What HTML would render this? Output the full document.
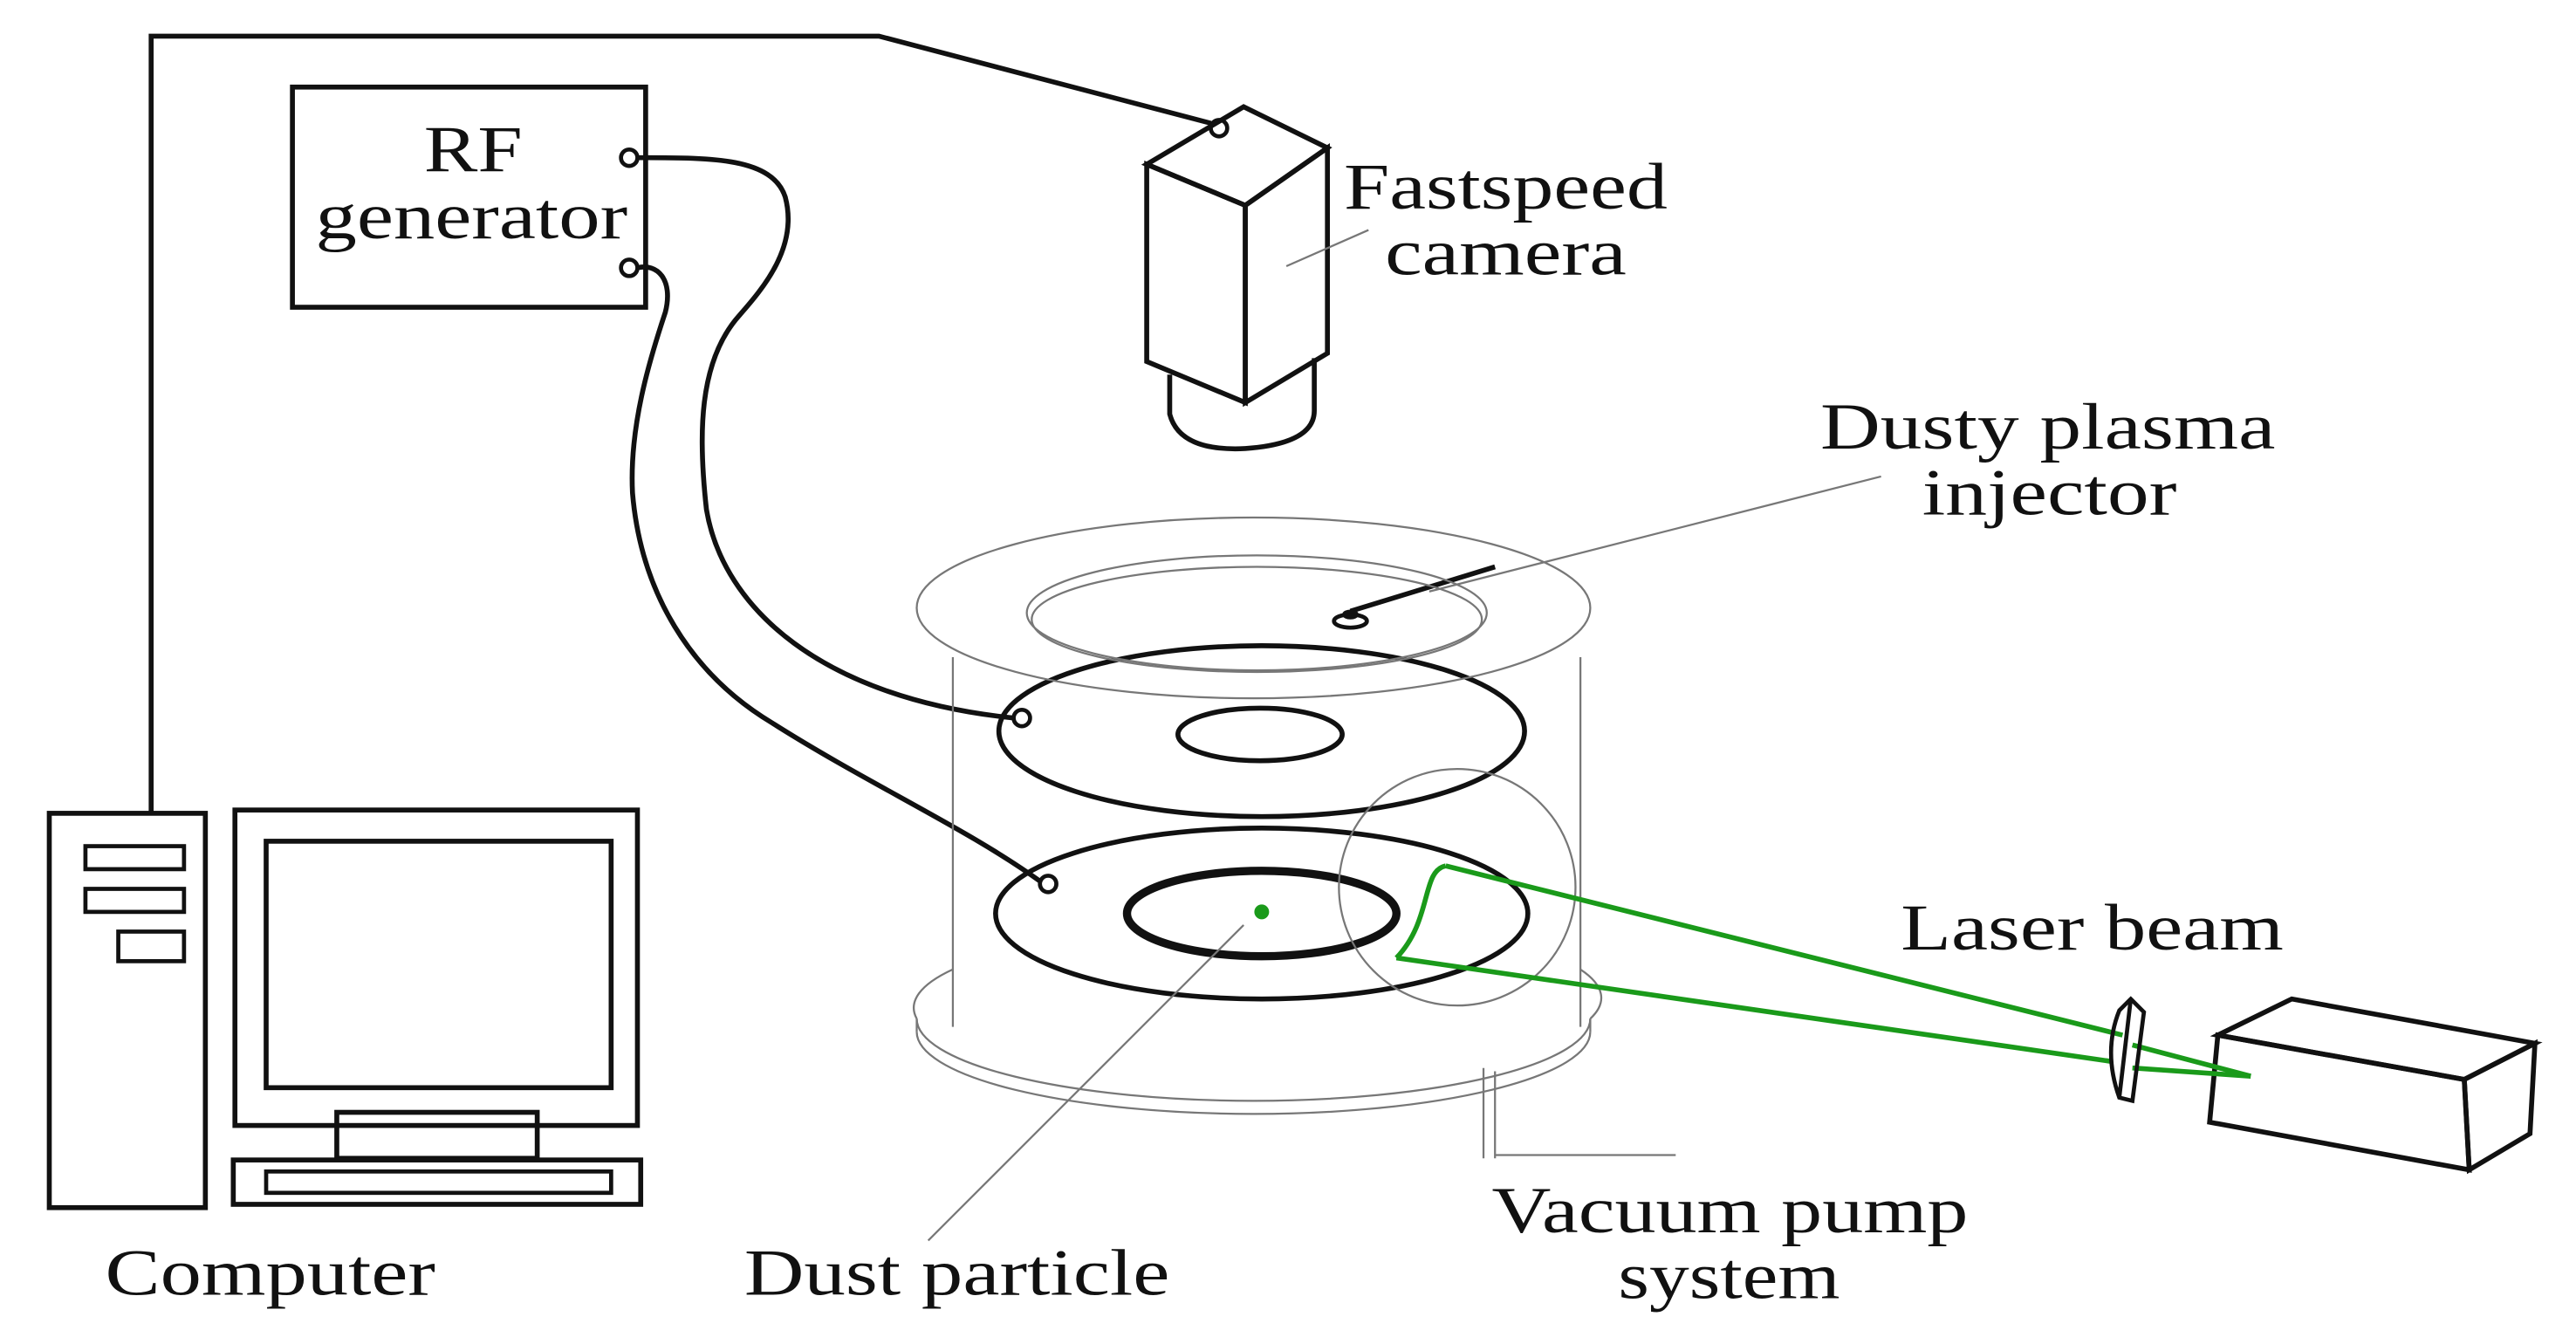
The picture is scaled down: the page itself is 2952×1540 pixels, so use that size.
<!DOCTYPE html>
<html><head><meta charset="utf-8"><style>
html,body{margin:0;padding:0;background:#fff}
svg{display:block}
text{font-family:"Liberation Serif",serif;font-size:40px;fill:#111}
</style></head><body>
<svg width="2952" height="1540" viewBox="0 0 1568 818" xmlns="http://www.w3.org/2000/svg">
<g fill="none" stroke="#111" stroke-width="3">
<polyline points="92,495 92,22 535,22 737,75"/>
<rect x="178" y="53" width="215" height="134"/>
<circle cx="383" cy="96" r="5" stroke-width="2.5"/>
<circle cx="383" cy="163" r="5" stroke-width="2.5"/>
<path d="M388,96 C430,96 470,95 478,120 C486,150 465,175 450,192 C425,220 425,265 430,310 C440,370 500,425 617,437"/>
<path d="M388,163 C400,160 410,170 405,190 C395,220 383,260 385,300 C390,360 420,410 470,440 C530,478 590,505 634,537"/>
<circle cx="742" cy="78" r="5" stroke-width="2.5"/>
<polygon points="698,100 758,125 758,245 698,220"/>
<polygon points="698,100 757,65 808,90 758,125"/>
<polygon points="758,125 808,90 808,215 758,245"/>
<path d="M712,228 L712,252 Q718,275 758,273 Q800,270 800,250 L800,218"/>
<ellipse cx="768" cy="445" rx="160" ry="52"/>
<ellipse cx="767" cy="447" rx="50" ry="16"/>
<circle cx="622" cy="437" r="5" stroke-width="2.5"/>
<ellipse cx="768" cy="556" rx="162" ry="52"/>
<ellipse cx="768" cy="556" rx="82" ry="26" stroke-width="5"/>
<circle cx="638" cy="538" r="5" stroke-width="2.5"/>
<line x1="822" y1="372" x2="910" y2="345"/>
<ellipse cx="822" cy="378" rx="10" ry="4" stroke-width="2.5"/>
<ellipse cx="822" cy="374" rx="4" ry="2" stroke-width="2"/>
<polygon points="1350,630 1500,657 1503,712 1345,683"/>
<polygon points="1350,630 1395,608 1543,635 1500,657"/>
<polygon points="1500,657 1543,635 1540,690 1503,712"/>
<rect x="30" y="495" width="95" height="240"/>
<rect x="52" y="515" width="60" height="14" stroke-width="2.5"/>
<rect x="52" y="541" width="60" height="14" stroke-width="2.5"/>
<rect x="72" y="567" width="40" height="18" stroke-width="2.5"/>
<rect x="143" y="493" width="245" height="192"/>
<rect x="162" y="512" width="210" height="150"/>
<rect x="205" y="677" width="122" height="28"/>
<rect x="142" y="706" width="248" height="27"/>
<rect x="162" y="713" width="210" height="13" stroke-width="2.5"/>
</g>
<g fill="none" stroke="#777" stroke-width="1.2">
<ellipse cx="763" cy="370" rx="205" ry="55"/>
<ellipse cx="765" cy="373" rx="140" ry="35"/>
<ellipse cx="765" cy="377" rx="137" ry="32"/>
<line x1="580" y1="400" x2="580" y2="625"/>
<line x1="962" y1="400" x2="962" y2="625"/>
<path d="M558,620 A205,50 0 0 0 968,620"/>
<path d="M558,628 A205,50 0 0 0 968,628"/>
<line x1="558" y1="620" x2="558" y2="628"/>
<line x1="968" y1="620" x2="968" y2="628"/>
<path d="M580,590 A205,50 0 0 0 558,620"/>
<path d="M962,590 A205,50 0 0 1 968,620"/>
<circle cx="887" cy="540" r="72"/>
<line x1="903" y1="650" x2="903" y2="705"/>
<line x1="910" y1="652" x2="910" y2="705"/>
<line x1="910" y1="703" x2="1020" y2="703"/>
<line x1="783" y1="162" x2="833" y2="140"/>
<line x1="870" y1="360" x2="1145" y2="290"/>
<line x1="565" y1="755" x2="757" y2="563"/>
</g>
<g fill="none" stroke="#1a9a1a" stroke-width="3">
<path d="M880,527 C865,530 872,560 850,583"/>
<line x1="880" y1="527" x2="1292" y2="630"/>
<line x1="850" y1="583" x2="1285" y2="646"/>
<line x1="1298" y1="636" x2="1370" y2="655"/>
<line x1="1298" y1="650" x2="1370" y2="655"/>
<circle cx="768" cy="555" r="3" fill="#1a9a1a"/>
</g>
<g fill="none" stroke="#111" stroke-width="2.5">
<path d="M1290,615 L1297,608 L1305,616 L1298,670 L1290,668 Q1280,640 1290,615 Z"/>
<line x1="1297" y1="608" x2="1290" y2="668"/>
</g>
<text x="258" y="104" textLength="60" lengthAdjust="spacingAndGlyphs">RF</text>
<text x="192" y="145" textLength="190" lengthAdjust="spacingAndGlyphs">generator</text>
<text x="818" y="127" textLength="197" lengthAdjust="spacingAndGlyphs">Fastspeed</text>
<text x="843" y="167" textLength="147" lengthAdjust="spacingAndGlyphs">camera</text>
<text x="1108" y="273" textLength="277" lengthAdjust="spacingAndGlyphs">Dusty plasma</text>
<text x="1170" y="313" textLength="155" lengthAdjust="spacingAndGlyphs">injector</text>
<text x="1157" y="578" textLength="233" lengthAdjust="spacingAndGlyphs">Laser beam</text>
<text x="908" y="750" textLength="290" lengthAdjust="spacingAndGlyphs">Vacuum pump</text>
<text x="985" y="790" textLength="135" lengthAdjust="spacingAndGlyphs">system</text>
<text x="453" y="788" textLength="259" lengthAdjust="spacingAndGlyphs">Dust particle</text>
<text x="64" y="788" textLength="201" lengthAdjust="spacingAndGlyphs">Computer</text>
</svg>
</body></html>
